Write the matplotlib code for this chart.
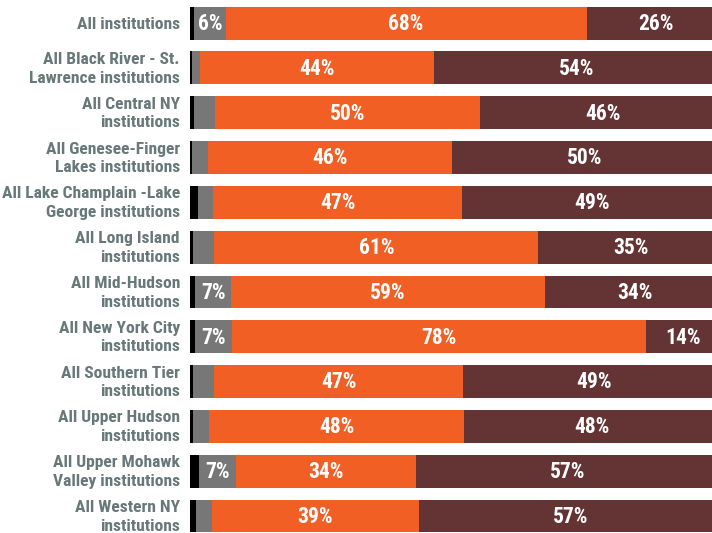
import matplotlib
matplotlib.use("Agg")
import matplotlib.pyplot as plt
from matplotlib import font_manager

categories = [
    "All institutions",
    "All Black River - St.\nLawrence institutions",
    "All Central NY\ninstitutions",
    "All Genesee-Finger\nLakes institutions",
    "All Lake Champlain -Lake\nGeorge institutions",
    "All Long Island\ninstitutions",
    "All Mid-Hudson\ninstitutions",
    "All New York City\ninstitutions",
    "All Southern Tier\ninstitutions",
    "All Upper Hudson\ninstitutions",
    "All Upper Mohawk\nValley institutions",
    "All Western NY\ninstitutions",
]
black_vals = [0.8, 0.3, 0.8, 0.4, 1.5, 0.6, 0.9, 0.9, 0.5, 0.6, 1.7, 1.1]
gray_vals = [5.9, 1.6, 3.9, 3.0, 2.8, 4.0, 6.9, 7.0, 4.0, 3.0, 6.9, 3.0]
orange_vals = [68, 44, 50, 46, 47, 61, 59, 78, 47, 48, 34, 39]
brown_vals = [26, 54, 46, 50, 49, 35, 34, 14, 49, 48, 57, 57]
gray_labels = ["6%", "", "", "", "", "", "7%", "7%", "", "", "7%", ""]
orange_labels = [f"{v}%" for v in orange_vals]
brown_labels = [f"{v}%" for v in brown_vals]

avail = {f.name for f in font_manager.fontManager.ttflist}
fam = None
for cand in ["Roboto Condensed", "Archivo Narrow", "Barlow Semi Condensed",
             "Liberation Sans Narrow"]:
    if cand in avail:
        fam = [cand, "DejaVu Sans"]
        break
if fam is None:
    fam = ["DejaVu Sans"]
    lab_fs, cat_fs = 12.5, 10.5
else:
    lab_fs, cat_fs = 15.5, 12.6

colors = ["#000000", "#777777", "#f15f24", "#643333"]

fig = plt.figure(figsize=(7.12, 5.33), dpi=100)
ax = fig.add_axes([190 / 712, 0, 522 / 712, 1])
ypos = list(range(len(categories)))
h = 0.735
left = [0.0] * len(categories)
series = [black_vals, gray_vals, orange_vals, brown_vals]
labels_s = [None, gray_labels, orange_labels, brown_labels]
for vals, col, labs in zip(series, colors, labels_s):
    ax.barh(ypos, vals, left=left, height=h, color=col, linewidth=0)
    if labs is not None:
        for y, l, v, lab in zip(ypos, left, vals, labs):
            if lab:
                ax.text(l + v / 2, y + 0.02, lab, ha="center", va="center",
                        color="white", fontsize=lab_fs, fontweight="bold",
                        family=fam)
    left = [a + b for a, b in zip(left, vals)]

ax.set_xlim(0, 98.3)
ax.set_ylim(11.38, -0.517)
ax.axis("off")

for y, c in zip(ypos, categories):
    ax.text(-10 / 5.31, y + 0.02, c, ha="right", va="center", color="#667877",
            fontsize=cat_fs, fontweight="bold", family=fam,
            linespacing=1.3, transform=ax.transData)

fig.savefig("out.png", dpi=100)
